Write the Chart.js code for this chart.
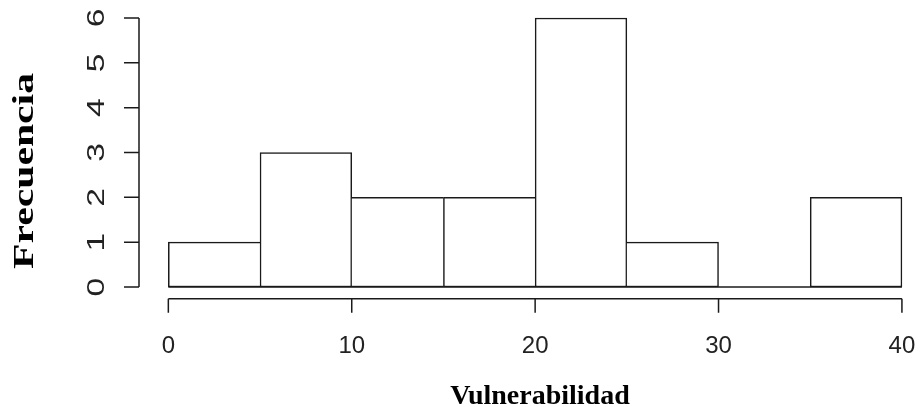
<!DOCTYPE html>
<html>
<head>
<meta charset="utf-8">
<script src="https://cdn.jsdelivr.net/npm/chart.js@4.4.1/dist/chart.umd.min.js"></script>
<style>
  html, body { margin: 0; padding: 0; background: #fff; overflow: hidden; }
  #wrap { position: relative; width: 920px; height: 407px; }
</style>
</head>
<body>
<div id="wrap"><canvas id="hist"></canvas></div>
<script>
// --- Data ---
const binEdges = [0, 5, 10, 15, 20, 25, 30, 35, 40];
const counts = [1, 3, 2, 2, 6, 1, 0, 2];
const xTicks = [0, 10, 20, 30, 40];
const yTicks = [0, 1, 2, 3, 4, 5, 6];
const xTitle = 'Vulnerabilidad';
const yTitle = 'Frecuencia';

const lineColor = '#1a1a1a';
const lineW = 1.5;

// bar centres so the linear x scale places each bin
const barData = counts.map((c, i) => ({ x: (binEdges[i] + binEdges[i + 1]) / 2, y: c }));

// R-style hist borders: draw each shared edge once
function barBorder(ctx) {
      const i = ctx.dataIndex;
      const last = counts.length - 1;
      const left = (i === 0 || counts[i - 1] <= counts[i]) ? lineW : 0;
      const right = (i === last || counts[i + 1] < counts[i]) ? lineW : 0;
      return { top: lineW, bottom: lineW, left: left, right: right };
}

// axes drawn detached from the plot, like base R graphics
const rAxes = {
      id: 'rAxes',
      afterDraw(chart) {
            const { ctx, chartArea } = chart;
            const xs = chart.scales.x;
            const ys = chart.scales.y;
            ctx.save();
            ctx.strokeStyle = lineColor;
            ctx.lineWidth = lineW;

            // baseline under the bars (covers the empty bin too)
            ctx.beginPath();
            ctx.moveTo(xs.getPixelForValue(binEdges[0]), ys.getPixelForValue(0));
            ctx.lineTo(xs.getPixelForValue(binEdges[binEdges.length - 1]), ys.getPixelForValue(0));
            ctx.stroke();

            // x axis
            const ax = chartArea.bottom + 1;
            ctx.beginPath();
            ctx.moveTo(xs.getPixelForValue(xTicks[0]), ax);
            ctx.lineTo(xs.getPixelForValue(xTicks[xTicks.length - 1]), ax);
            xTicks.forEach(v => {
                  const px = xs.getPixelForValue(v);
                  ctx.moveTo(px, ax);
                  ctx.lineTo(px, ax + 14);
            });
            ctx.stroke();

            // y axis
            const ay = chartArea.left;
            ctx.beginPath();
            ctx.moveTo(ay, ys.getPixelForValue(yTicks[0]));
            ctx.lineTo(ay, ys.getPixelForValue(yTicks[yTicks.length - 1]));
            yTicks.forEach(v => {
                  const py = ys.getPixelForValue(v);
                  ctx.moveTo(ay, py);
                  ctx.lineTo(ay - 15, py);
            });
            ctx.stroke();

            // tick labels
            ctx.fillStyle = '#222';
            ctx.font = '24px "Liberation Sans", Arial, sans-serif';
            ctx.textAlign = 'center';
            ctx.textBaseline = 'alphabetic';
            xTicks.forEach(v => {
                  ctx.fillText(String(v), xs.getPixelForValue(v), 353);
            });
            yTicks.forEach(v => {
                  ctx.save();
                  ctx.translate(104, ys.getPixelForValue(v));
                  ctx.rotate(-Math.PI / 2);
                  ctx.scale(1.4, 1);
                  ctx.fillText(String(v), 0, 0);
                  ctx.restore();
            });

            // titles
            ctx.fillStyle = '#000';
            ctx.font = 'bold 28px "Liberation Serif", "Times New Roman", serif';
            ctx.fillText(xTitle, 540, 404);

            ctx.save();
            ctx.translate(33, 171);
            ctx.rotate(-Math.PI / 2);
            ctx.scale(1.39, 1);
            ctx.font = 'bold 30px "Liberation Serif", "Times New Roman", serif';
            ctx.fillText(yTitle, 0, 0);
            ctx.restore();

            ctx.restore();
      }
};

function drawHistogram() {
      const ctx = document.getElementById('hist').getContext('2d');
      new Chart(ctx, {
            type: 'bar',
            data: {
                  datasets: [{
                        data: barData,
                        backgroundColor: '#ffffff',
                        borderColor: lineColor,
                        borderWidth: barBorder,
                        borderSkipped: false,
                        barPercentage: 1,
                        categoryPercentage: 1
                  }]
            },
            options: {
                  responsive: true,
                  maintainAspectRatio: false,
                  animation: false,
                  layout: { padding: { left: 139, right: 3.4, top: 7.2, bottom: 109.2 } },
                  scales: {
                        x: { type: 'linear', min: -1.6, max: 40.8, offset: false, display: false },
                        y: { min: -0.24, max: 6.24, display: false }
                  },
                  plugins: {
                        legend: { display: false },
                        tooltip: { enabled: false }
                  }
            },
            plugins: [rAxes]
      });
}

drawHistogram();
</script>
</body>
</html>
